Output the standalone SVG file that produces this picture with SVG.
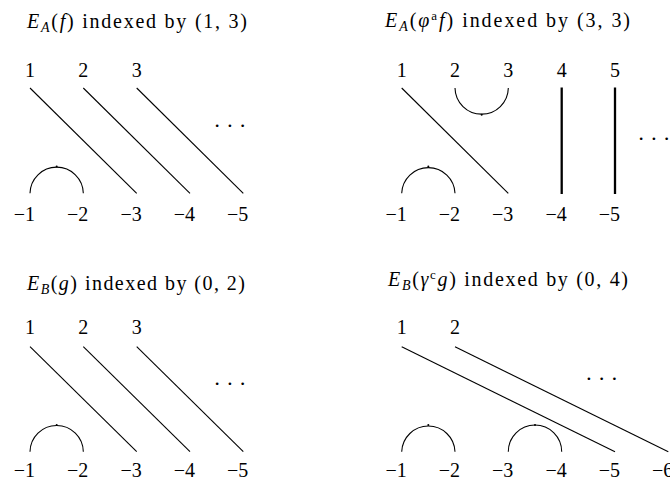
<svg xmlns="http://www.w3.org/2000/svg" width="670" height="480" viewBox="0 0 670 480">
<style>
  text { font-family: "Liberation Serif", "Times New Roman", serif; font-size: 20px; fill: #000; }
  .it { font-style: italic; }
  .sub { font-size: 14px; }
  .sup { font-size: 13px; }
  .pos { text-anchor: middle; }
  .neg { text-anchor: end; }
  .dots { font-size: 21.9px; text-anchor: middle; }
  .str { fill: none; stroke: #000; stroke-width: 1.1; }
  .thick { fill: none; stroke: #000; stroke-width: 2.3; }
  .tick { fill: #000; }
</style>

<!-- Panel 1: top-left -->
<g id="panel-ea-f">
  <text id="title-ea-f" x="27" y="28.3" textLength="220" lengthAdjust="spacing"><tspan class="it">E</tspan><tspan class="sub it" dy="4">A</tspan><tspan dy="-4">(</tspan><tspan class="it">f</tspan><tspan>) indexed by (1, 3)</tspan></text>
  <g id="tl-top-1"><text class="pos" x="30" y="76.5">1</text></g>
  <g id="tl-top-2"><text class="pos" x="83.3" y="76.5">2</text></g>
  <g id="tl-top-3"><text class="pos" x="136.7" y="76.5">3</text></g>
  <g id="tl-bot-1"><text class="neg" x="35" y="221">−1</text></g>
  <g id="tl-bot-2"><text class="neg" x="88.3" y="221">−2</text></g>
  <g id="tl-bot-3"><text class="neg" x="141.7" y="221">−3</text></g>
  <g id="tl-bot-4"><text class="neg" x="195" y="221">−4</text></g>
  <g id="tl-bot-5"><text class="neg" x="248.3" y="221">−5</text></g>
  <text class="dots" x="230" y="132.8">· · ·</text>
  <g id="tl-connectors">
    <line class="str" x1="30" y1="88" x2="136.7" y2="193.3"/>
    <line class="str" x1="83.3" y1="88" x2="190" y2="193.3"/>
    <line class="str" x1="136.7" y1="88" x2="243.3" y2="193.3"/>
    <path class="str" d="M30,193.3 A26.67,26.67 0 0 1 83.33,193.3"/>
    <circle class="tick" cx="56.67" cy="166.6" r="1"/>
  </g>
</g>

<!-- Panel 2: top-right -->
<g id="panel-ea-phif">
  <text id="title-ea-phif" x="385" y="27" textLength="245" lengthAdjust="spacing"><tspan class="it">E</tspan><tspan class="sub it" dy="4">A</tspan><tspan dy="-4">(</tspan><tspan class="it">φ</tspan><tspan class="sup" dy="-7">a</tspan><tspan class="it" dy="7">f</tspan><tspan>) indexed by (3, 3)</tspan></text>
  <g id="tr-top-1"><text class="pos" x="401.7" y="76.5">1</text></g>
  <g id="tr-top-2"><text class="pos" x="455" y="76.5">2</text></g>
  <g id="tr-top-3"><text class="pos" x="508.3" y="76.5">3</text></g>
  <g id="tr-top-4"><text class="pos" x="561.7" y="76.5">4</text></g>
  <g id="tr-top-5"><text class="pos" x="615" y="76.5">5</text></g>
  <g id="tr-bot-1"><text class="neg" x="406.7" y="221">−1</text></g>
  <g id="tr-bot-2"><text class="neg" x="460" y="221">−2</text></g>
  <g id="tr-bot-3"><text class="neg" x="513.3" y="221">−3</text></g>
  <g id="tr-bot-4"><text class="neg" x="566.7" y="221">−4</text></g>
  <g id="tr-bot-5"><text class="neg" x="620" y="221">−5</text></g>
  <text class="dots" x="654" y="146.1">· · ·</text>
  <g id="tr-connectors">
    <line class="str" x1="401.7" y1="88" x2="508.3" y2="193.3"/>
    <path class="str" d="M455,88 A26.67,26.67 0 0 0 508.33,88"/>
    <circle class="tick" cx="481.67" cy="114.7" r="1"/>
    <line class="thick" x1="561.7" y1="87.5" x2="561.7" y2="194"/>
    <line class="thick" x1="615" y1="87.5" x2="615" y2="194"/>
    <path class="str" d="M401.7,193.3 A26.67,26.67 0 0 1 455,193.3"/>
    <circle class="tick" cx="428.33" cy="166.6" r="1"/>
  </g>
</g>

<!-- Panel 3: bottom-left -->
<g id="panel-eb-g">
  <text id="title-eb-g" x="27" y="289.5" textLength="218" lengthAdjust="spacing"><tspan class="it">E</tspan><tspan class="sub it" dy="4">B</tspan><tspan dy="-4">(</tspan><tspan class="it">g</tspan><tspan>) indexed by (0, 2)</tspan></text>
  <g id="bl-top-1"><text class="pos" x="30" y="333.5">1</text></g>
  <g id="bl-top-2"><text class="pos" x="83.3" y="333.5">2</text></g>
  <g id="bl-top-3"><text class="pos" x="136.7" y="333.5">3</text></g>
  <g id="bl-bot-1"><text class="neg" x="35" y="476.5">−1</text></g>
  <g id="bl-bot-2"><text class="neg" x="88.3" y="476.5">−2</text></g>
  <g id="bl-bot-3"><text class="neg" x="141.7" y="476.5">−3</text></g>
  <g id="bl-bot-4"><text class="neg" x="195" y="476.5">−4</text></g>
  <g id="bl-bot-5"><text class="neg" x="248.3" y="476.5">−5</text></g>
  <text class="dots" x="230" y="391.1">· · ·</text>
  <g id="bl-connectors">
    <line class="str" x1="30" y1="346.7" x2="136.7" y2="451.7"/>
    <line class="str" x1="83.3" y1="346.7" x2="190" y2="451.7"/>
    <line class="str" x1="136.7" y1="346.7" x2="243.3" y2="451.7"/>
    <path class="str" d="M30,451.7 A26.67,26.67 0 0 1 83.33,451.7"/>
    <circle class="tick" cx="56.67" cy="425" r="1"/>
  </g>
</g>

<!-- Panel 4: bottom-right -->
<g id="panel-eb-gammag">
  <text id="title-eb-gammag" x="388" y="285.5" textLength="240" lengthAdjust="spacing"><tspan class="it">E</tspan><tspan class="sub it" dy="4">B</tspan><tspan dy="-4">(</tspan><tspan class="it">γ</tspan><tspan class="sup" dy="-7">c</tspan><tspan class="it" dy="7">g</tspan><tspan>) indexed by (0, 4)</tspan></text>
  <g id="br-top-1"><text class="pos" x="401.7" y="333.5">1</text></g>
  <g id="br-top-2"><text class="pos" x="455" y="333.5">2</text></g>
  <g id="br-bot-1"><text class="neg" x="406.7" y="476.5">−1</text></g>
  <g id="br-bot-2"><text class="neg" x="460" y="476.5">−2</text></g>
  <g id="br-bot-3"><text class="neg" x="513.3" y="476.5">−3</text></g>
  <g id="br-bot-4"><text class="neg" x="566.7" y="476.5">−4</text></g>
  <g id="br-bot-5"><text class="neg" x="620" y="476.5">−5</text></g>
  <g id="br-bot-6"><text class="neg" x="673.3" y="476.5">−6</text></g>
  <text class="dots" x="601.7" y="386.1">· · ·</text>
  <g id="br-connectors">
    <line class="str" x1="401.7" y1="346.7" x2="615" y2="451.7"/>
    <line class="str" x1="455" y1="346.7" x2="668.3" y2="451.7"/>
    <path class="str" d="M401.7,451.7 A26.67,26.67 0 0 1 455,451.7"/>
    <circle class="tick" cx="428.33" cy="425" r="1"/>
    <path class="str" d="M508.3,451.7 A26.67,26.67 0 0 1 561.7,451.7"/>
    <circle class="tick" cx="535" cy="425" r="1"/>
  </g>
</g>
</svg>
